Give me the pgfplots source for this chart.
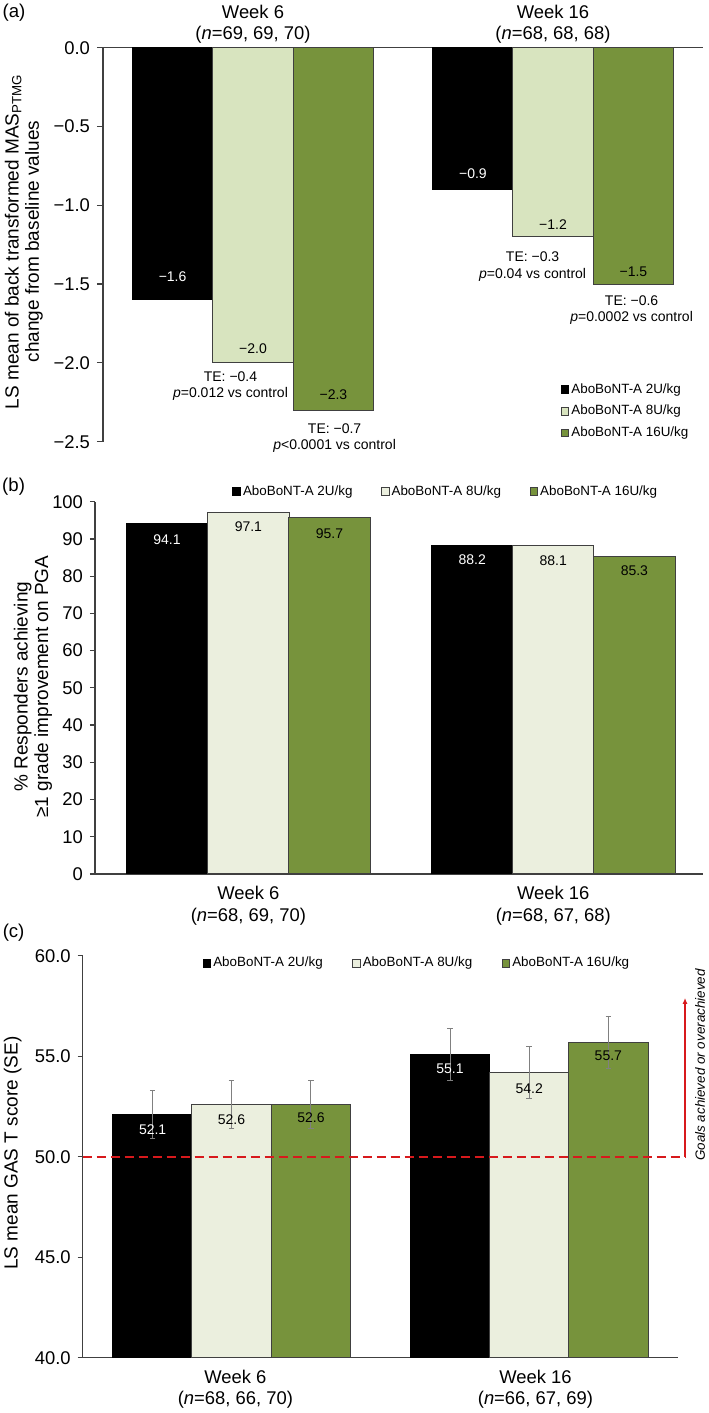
\documentclass[border=0pt]{standalone}
\usepackage{pgfplots}
\pgfplotsset{compat=1.18}
\usetikzlibrary{arrows.meta}
\usepackage{fontspec}
\setmainfont{Liberation Sans}
\definecolor{lightA}{HTML}{D8E4BF}
\definecolor{lightB}{HTML}{EBEFDE}
\definecolor{olive}{HTML}{77933C}
\definecolor{edge}{HTML}{404040}
\definecolor{goalred}{HTML}{D7191C}

\pgfplotsset{
  mystyle/.style={
    scale only axis,
    clip mode=individual,
    axis line style={draw=edge, line width=0.6bp},
    tick align=outside,
    ytick style={draw=edge, line width=0.6bp},
    major tick length=3bp,
    xtick style={draw=none},
    tick label style={font=\fontsize{9.2bp}{10.85bp}\selectfont, text=black},
    xticklabel style={align=center},
    ylabel style={font=\fontsize{9.5bp}{10.2bp}\selectfont, align=center, anchor=center},
    legend style={draw=none, fill=none, inner sep=0pt, outer sep=0pt,
      font=\fontsize{6.7bp}{8bp}\selectfont, legend cell align=left,
      nodes={inner sep=1bp}},
  },
  mybar/.style={ybar, bar width=0.267, bar shift=0pt, line width=0.5bp,
    legend image code/.code={\draw[##1, line width=0.5bp] (0bp,-1.9bp) rectangle (3.8bp,1.9bp);}},
}
\tikzset{
  vlab/.style={font=\fontsize{7bp}{8bp}\selectfont},
  anno/.style={font=\fontsize{7bp}{8.3bp}\selectfont, align=center},
}

\begin{document}
\begin{tikzpicture}
\path[use as bounding box] (0,0) rectangle (354.5bp,706.5bp);

% ---------------- (a)
\node[font=\fontsize{9.3bp}{10bp}\selectfont] at (7bp,700bp) {(a)};
\begin{axis}[mystyle,
  at={(51.5bp,485.65bp)}, anchor=south west, width=300bp, height=197bp,
  xmin=-0.5, xmax=1.5, ymin=-2.5, ymax=0,
  axis x line*=top, axis y line*=left,
  xtick={0,1},
  xticklabels={{Week 6\\(\textit{n}=69, 69, 70)},{Week 16\\(\textit{n}=68, 68, 68)}},
  xticklabel style={yshift=-4.5bp},
  ytick={-2.5,-2,-1.5,-1,-0.5,0},
  yticklabels={−2.5,−2.0,−1.5,−1.0,−0.5,0.0},
  ylabel={LS mean of back transformed MAS\textsubscript{PTMG}\\change from baseline values},
  ylabel style={at={(axis description cs:-0.132,0.508)}},
  legend style={at={(axis description cs:0.763,0.153)}, anchor=north west, row sep=2.5bp},
]
\addplot[mybar, fill=black, draw=black] coordinates {(-0.268,-1.6) (0.733,-0.9)};
\addlegendentry{AboBoNT-A 2U/kg}
\addplot[mybar, fill=lightA, draw=edge] coordinates {(0,-2.0) (1.0,-1.2)};
\addlegendentry{AboBoNT-A 8U/kg}
\addplot[mybar, fill=olive, draw=edge] coordinates {(0.268,-2.3) (1.268,-1.5)};
\addlegendentry{AboBoNT-A 16U/kg}
\node[vlab, text=white] at (axis cs:-0.268,-1.453) {−1.6};
\node[vlab] at (axis cs:0,-1.907) {−2.0};
\node[vlab] at (axis cs:0.268,-2.199) {−2.3};
\node[vlab, text=white] at (axis cs:0.733,-0.801) {−0.9};
\node[vlab] at (axis cs:1.0,-1.125) {−1.2};
\node[vlab] at (axis cs:1.268,-1.421) {−1.5};
\node[anno] at (axis cs:-0.075,-2.146) {TE: −0.4\\\textit{p}=0.012 vs control};
\node[anno] at (axis cs:0.272,-2.476) {TE: −0.7\\\textit{p}<0.0001 vs control};
\node[anno] at (axis cs:0.932,-1.389) {TE: −0.3\\\textit{p}=0.04 vs control};
\node[anno] at (axis cs:1.262,-1.665) {TE: −0.6\\\textit{p}=0.0002 vs control};
\end{axis}

% ---------------- (b)
\node[font=\fontsize{9.3bp}{10bp}\selectfont] at (6.8bp,463.15bp) {(b)};
\begin{axis}[mystyle,
  at={(47.5bp,269.5bp)}, anchor=south west, width=304bp, height=186.15bp,
  xmin=-0.503, xmax=1.491, ymin=0, ymax=100,
  axis x line*=bottom, axis y line*=left,
  major tick length=2.5bp,
  xtick={0,1},
  xticklabels={{Week 6\\(\textit{n}=68, 69, 70)},{Week 16\\(\textit{n}=68, 67, 68)}},
  ytick={0,10,20,30,40,50,60,70,80,90,100},
  yticklabels={0,10,20,30,40,50,60,70,80,90,100},
  ylabel={\% Responders achieving\\≥1 grade improvement on PGA},
  ylabel style={at={(axis description cs:-0.102,0.503)}},
  legend columns=3,
  legend style={at={(axis description cs:0.226,1.027)}, anchor=west,
    /tikz/every even column/.append style={column sep=13.25bp}},
]
\addplot[mybar, fill=black, draw=black] coordinates {(-0.267,94.1) (0.734,88.2)};
\addlegendentry{AboBoNT-A 2U/kg}
\addplot[mybar, fill=lightB, draw=edge] coordinates {(0,97.1) (1.0,88.1)};
\addlegendentry{AboBoNT-A 8U/kg}
\addplot[mybar, fill=olive, draw=edge] coordinates {(0.266,95.7) (1.266,85.3)};
\addlegendentry{AboBoNT-A 16U/kg}
\node[vlab, text=white] at (axis cs:-0.267,89.9) {94.1};
\node[vlab] at (axis cs:0,93.3) {97.1};
\node[vlab] at (axis cs:0.266,91.5) {95.7};
\node[vlab, text=white] at (axis cs:0.734,84.3) {88.2};
\node[vlab] at (axis cs:1.0,84.2) {88.1};
\node[vlab] at (axis cs:1.266,81.5) {85.3};
\end{axis}

% ---------------- (c)
\node[font=\fontsize{9.3bp}{10bp}\selectfont] at (6.8bp,240bp) {(c)};
\begin{axis}[mystyle,
  at={(41.35bp,27.65bp)}, anchor=south west, width=297.65bp, height=201bp,
  xmin=-0.5, xmax=1.5, ymin=40, ymax=60,
  axis x line*=bottom, axis y line*=left,
  major tick length=2.5bp,
  xtick={0.013,1.021},
  xticklabels={{Week 6\\(\textit{n}=68, 66, 70)},{Week 16\\(\textit{n}=66, 67, 69)}},
  ytick={40,45,50,55,60},
  yticklabels={40.0,45.0,50.0,55.0,60.0},
  ylabel={LS mean GAS T score (SE)},
  ylabel style={at={(axis description cs:-0.1176,0.509)}},
  legend columns=3,
  legend style={at={(axis description cs:0.2016,0.981)}, anchor=west,
    /tikz/every even column/.append style={column sep=13.7bp}},
]
\addplot[mybar, fill=black, draw=black,
  error bars/.cd, y dir=both, y explicit,
  error bar style={draw=gray, line width=0.5bp},
  error mark options={rotate=90, draw=gray, mark size=1.4bp, line width=0.5bp}]
  coordinates {(-0.265,52.1) +- (0,1.2) (0.734,55.1) +- (0,1.3)};
\addlegendentry{AboBoNT-A 2U/kg}
\addplot[mybar, fill=lightB, draw=edge,
  error bars/.cd, y dir=both, y explicit,
  error bar style={draw=gray, line width=0.5bp},
  error mark options={rotate=90, draw=gray, mark size=1.4bp, line width=0.5bp}]
  coordinates {(0,52.6) +- (0,1.2) (1.0,54.2) +- (0,1.3)};
\addlegendentry{AboBoNT-A 8U/kg}
\addplot[mybar, fill=olive, draw=edge,
  error bars/.cd, y dir=both, y explicit,
  error bar style={draw=gray, line width=0.5bp},
  error mark options={rotate=90, draw=gray, mark size=1.4bp, line width=0.5bp}]
  coordinates {(0.267,52.6) +- (0,1.2) (1.266,55.7) +- (0,1.3)};
\addlegendentry{AboBoNT-A 16U/kg}
\node[vlab, text=white] at (axis cs:-0.265,51.36) {52.1};
\node[vlab] at (axis cs:0,51.83) {52.6};
\node[vlab] at (axis cs:0.267,51.94) {52.6};
\node[vlab, text=white] at (axis cs:0.734,54.36) {55.1};
\node[vlab] at (axis cs:1.0,53.40) {54.2};
\node[vlab] at (axis cs:1.266,55.01) {55.7};
\draw[goalred, line width=1bp, dash pattern=on 4.5bp off 2.5bp] (axis cs:-0.5,50) -- (axis cs:1.5236,50);
\draw[goalred, line width=0.75bp, -{Latex[length=3bp,width=2.5bp]}] (axis cs:1.5236,50) -- (axis cs:1.5236,57.9);
\node[rotate=90, font=\itshape\fontsize{6.7bp}{8bp}\selectfont] at (axis cs:1.574,54.56) {Goals achieved or overachieved};
\end{axis}
\end{tikzpicture}
\end{document}
